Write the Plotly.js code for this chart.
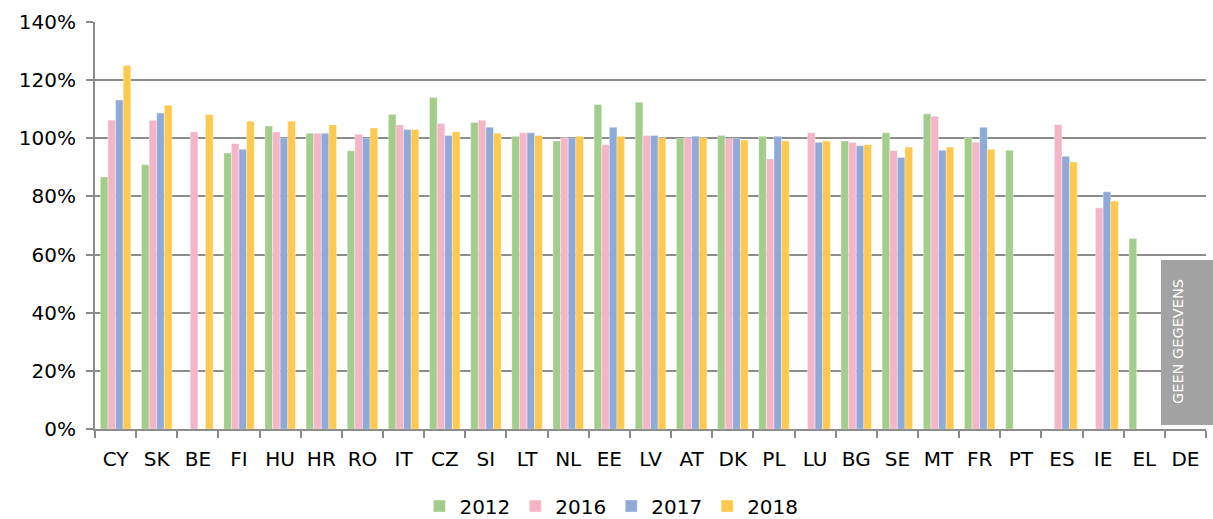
<!DOCTYPE html>
<html><head><meta charset="utf-8">
<script src="https://cdn.plot.ly/plotly-3.0.1.min.js"></script>
<style>html,body{margin:0;padding:0;background:#fff}#chart{width:1213px;height:519px}</style>
</head><body><div id="chart"></div>
<script>
const categories = ["CY","SK","BE","FI","HU","HR","RO","IT","CZ","SI","LT","NL","EE","LV","AT","DK","PL","LU","BG","SE","MT","FR","PT","ES","IE","EL","DE"];
const seriesNames = ["2012","2016","2017","2018"];
const v2012 = [0.867,0.909,null,0.949,1.042,1.017,0.957,1.082,1.140,1.054,1.007,0.991,1.116,1.124,0.999,1.010,1.007,null,0.991,1.019,1.084,1.002,0.959,null,null,0.655,null];
const v2016 = [1.062,1.062,1.022,0.982,1.022,1.017,1.014,1.046,1.051,1.062,1.019,1.002,0.978,1.010,1.002,0.999,0.929,1.019,0.986,0.958,1.076,0.986,null,1.047,0.761,null,null];
const v2017 = [1.132,1.087,null,0.962,1.000,1.017,1.000,1.030,1.010,1.038,1.019,1.000,1.038,1.010,1.007,0.999,1.007,0.986,0.974,0.934,0.959,1.038,null,0.938,0.816,null,null];
const v2018 = [1.250,1.114,1.082,1.059,1.059,1.046,1.035,1.030,1.022,1.017,1.010,1.007,1.007,1.002,1.002,0.994,0.991,0.991,0.978,0.970,0.970,0.962,null,0.918,0.784,null,null];
const colors = ["#a3cd8a","#f5b5c6","#8faad8","#ffc84e"];
const noDataLabel = "GEEN GEGEVENS";

const allVals = [v2012,v2016,v2017,v2018];
const traces = allVals.map((vals,i)=>({
  type:'bar', name:seriesNames[i], x:categories, y:vals,
  marker:{color:colors[i], line:{color:'rgba(255,255,255,0.6)', width:0.6}},
  hoverinfo:'x+y+name'
}));

const FONT = 'DejaVu Sans, Verdana, sans-serif';
const layout = {
  width:1213, height:519,
  margin:{l:95, r:7, t:22, b:90, autoexpand:false},
  paper_bgcolor:'#fff', plot_bgcolor:'#fff',
  font:{family:FONT, color:'#000', size:20},
  barmode:'group', bargap:0.26, bargroupgap:0,
  showlegend:true,
  legend:{orientation:'h', x:0.292, xanchor:'left', yref:'container', y:0.025, yanchor:'middle',
    font:{size:20, family:FONT}, itemwidth:30, traceorder:'normal', tracegroupgap:0, borderwidth:0},
  xaxis:{type:'category', showgrid:false, showline:true, linecolor:'#8c8c8c', linewidth:2, automargin:false,
    ticks:'outside', tickson:'boundaries', ticklen:7, tickcolor:'#8c8c8c', tickwidth:2,
    tickfont:{size:20}, zeroline:false, fixedrange:true, ticklabelstandoff:11},
  yaxis:{range:[0,1.4], dtick:0.2, tickformat:'.0%', showgrid:true, gridcolor:'#8c8c8c', gridwidth:2, automargin:false,
    showline:true, linecolor:'#8c8c8c', linewidth:2, ticks:'outside', ticklen:7, tickcolor:'#8c8c8c', tickwidth:2,
    zeroline:false, tickfont:{size:20}, ticklabelstandoff:6},
  shapes:[{type:'rect', xref:'paper', yref:'y', x0:0.9595, x1:1.01, y0:0.014, y1:0.581,
    fillcolor:'#a3a3a3', line:{width:0}, layer:'above'}],
  annotations:[{text:noDataLabel, xref:'paper', yref:'y', x:0.984, y:0.30, textangle:-90, showarrow:false,
    font:{color:'#ffffff', size:14.5, family:FONT}}]
};
Plotly.newPlot('chart', traces, layout, {displayModeBar:false, staticPlot:true});
</script></body></html>
